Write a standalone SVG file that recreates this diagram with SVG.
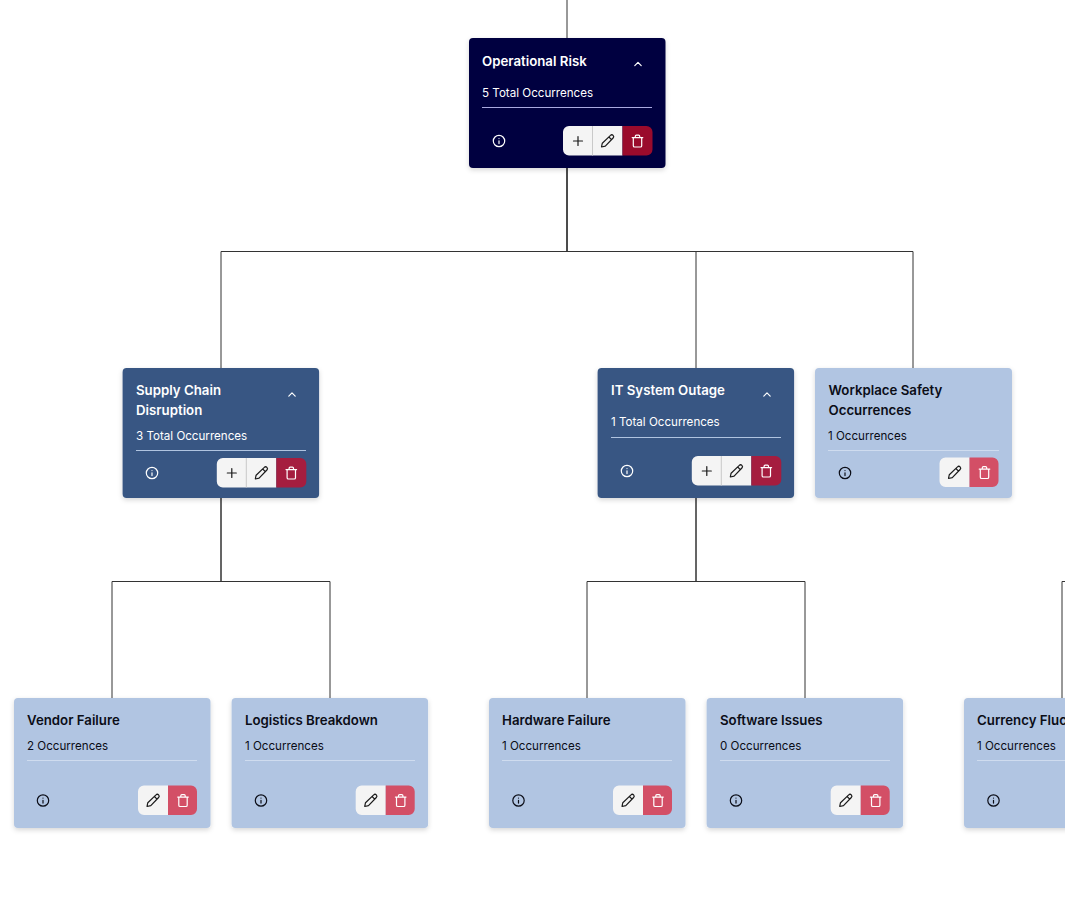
<svg xmlns="http://www.w3.org/2000/svg" width="1065" height="916" viewBox="0 0 1065 916">
<style>
text{font-family:Inter,"Noto Sans","Liberation Sans",sans-serif}
.t{font-size:13.25px;font-weight:600}
.s{font-size:11.6px;font-weight:400}
.lt{fill:#fff}.dk{fill:#0b0d17}
.conn path{fill:none;stroke:#333;stroke-width:1}
.ic{fill:none;stroke-width:1.2;stroke-linecap:round;stroke-linejoin:round}
.card{filter:url(#sh)}
</style>
<defs>
<filter id="sh" x="-10%" y="-10%" width="120%" height="125%"><feDropShadow dx="0" dy="2" stdDeviation="2.5" flood-color="#000" flood-opacity=".16"/></filter>
<g id="info" class="ic"><circle r="5.7"/><path d="M0 -.2V2.6M0 -2.5V-2.4"/></g>
<g id="plus" class="ic" stroke="#1a1a1a"><path d="M-4.5 0H4.5M0 -4.5V4.5"/></g>
<g id="pen" class="ic" stroke="#1a1a1a"><path d="M-6 6 L-5.2 2.2 L3 -5.6 A1.7 1.7 0 0 1 5.6 -3 L-2.2 5.2 Z M1.4 -4 L4 -1.4"/></g>
<g id="trash" class="ic"><path d="M-5.3 -3.4H5.3M-4.2 -3.4V4.7A1.3 1.3 0 0 0 -2.9 6H2.9A1.3 1.3 0 0 0 4.2 4.7V-3.4M-2.2 -3.4V-4.8A1.1 1.1 0 0 1 -1.1 -5.9H1.1A1.1 1.1 0 0 1 2.2 -4.8V-3.4"/></g>
<path id="chev" class="ic" d="M-3.2 1.6L0 -1.6L3.2 1.6"/>
<g id="bar3">
<path d="M6 0H59.500V29.500H6A6 6 0 0 1 0 23.500V6A6 6 0 0 1 6 0Z" fill="#f4f4f4"/>
<path d="M29.500 0V29.500" stroke="#c9c9c9" stroke-width="1"/>
<use href="#plus" x="15" y="15"/><use href="#pen" x="44.500" y="15"/>
</g>
<g id="bar2">
<path d="M6 0H30V29.500H6A6 6 0 0 1 0 23.500V6A6 6 0 0 1 6 0Z" fill="#f4f4f4"/>
<path d="M30 0H53A6 6 0 0 1 59 6V23.500A6 6 0 0 1 53 29.500H30Z" fill="#d34f66"/>
<use href="#pen" x="15" y="15"/><use href="#trash" x="45" y="15" stroke="#fff"/>
</g>
<path id="del" d="M0 0H24A6 6 0 0 1 30 6V23.500A6 6 0 0 1 24 29.500H0Z"/>
</defs>
<rect width="1065" height="916" fill="#fff"/>
<g class="conn">
<path d="M567 0V38"/>
<path d="M567 168V251.500H221V368"/>
<path d="M567 168V251.500H696V368"/>
<path d="M567 168V251.500H913V368"/>
<path d="M221 498V581.500H112V698"/>
<path d="M221 498V581.500H330V698"/>
<path d="M696 498V581.500H587V698"/>
<path d="M696 498V581.500H805V698"/>
<path d="M1065 581.500H1062V698"/>
</g>
<g id="node-operational-risk">
<rect class="card" x="469" y="38" width="196.500" height="130" rx="4" fill="#03023f"/>
<text class="t lt" x="482" y="66">Operational Risk</text>
<use href="#chev" x="638" y="64" stroke="#fff"/>
<text class="s lt" x="482" y="97">5 Total Occurrences</text>
<path d="M482 107.500H652" stroke="#a9a9e0"/>
<use href="#info" x="499" y="141" stroke="#fff"/>
<use href="#bar3" x="563" y="126"/>
<use href="#del" x="622.500" y="126" fill="#9a0b2c"/>
<use href="#trash" x="637.500" y="141" stroke="#fff"/>
</g>
<g id="node-supply-chain">
<rect class="card" x="122.600" y="368" width="196.500" height="130" rx="4" fill="#375683"/>
<text class="t lt" x="136" y="395">Supply Chain</text>
<text class="t lt" x="136" y="415">Disruption</text>
<use href="#chev" x="292" y="394.500" stroke="#fff"/>
<text class="s lt" x="136" y="440">3 Total Occurrences</text>
<path d="M136 450.500H306" stroke="#b0c4e0"/>
<use href="#info" x="152" y="473" stroke="#fff"/>
<use href="#bar3" x="216.800" y="458"/>
<use href="#del" x="276.300" y="458" fill="#a51d3f"/>
<use href="#trash" x="291.300" y="473" stroke="#fff"/>
</g>
<g id="node-it-system">
<rect class="card" x="597.600" y="368" width="196.500" height="130" rx="4" fill="#375683"/>
<text class="t lt" x="611" y="395">IT System Outage</text>
<use href="#chev" x="767" y="394.500" stroke="#fff"/>
<text class="s lt" x="611" y="426">1 Total Occurrences</text>
<path d="M611 437.500H781" stroke="#b0c4e0"/>
<use href="#info" x="627" y="471" stroke="#fff"/>
<use href="#bar3" x="691.800" y="456"/>
<use href="#del" x="751.300" y="456" fill="#a51d3f"/>
<use href="#trash" x="766.300" y="471" stroke="#fff"/>
</g>
<g id="node-workplace-safety">
<rect class="card" x="815" y="368" width="197" height="130" rx="4" fill="#b1c5e2"/>
<text class="t dk" x="828.500" y="395">Workplace Safety</text>
<text class="t dk" x="828.500" y="415">Occurrences</text>
<text class="s dk" x="828" y="440">1 Occurrences</text>
<path d="M828 450.500H999" stroke="#cfdcef"/>
<use href="#info" x="845" y="473" stroke="#0b0d17"/>
<use href="#bar2" x="939.500" y="457.500"/>
</g>
<g id="node-vendor-failure">
<rect class="card" x="14" y="698" width="196.500" height="130" rx="4" fill="#b1c5e2"/>
<text class="t dk" x="27" y="725">Vendor Failure</text>
<text class="s dk" x="27" y="750">2 Occurrences</text>
<path d="M27 760.500H197" stroke="#cfdcef"/>
<use href="#info" x="43" y="800.500" stroke="#0b0d17"/>
<use href="#bar2" x="138" y="785.500"/>
</g>
<g id="node-logistics-breakdown">
<rect class="card" x="231.600" y="698" width="196.500" height="130" rx="4" fill="#b1c5e2"/>
<text class="t dk" x="245" y="725">Logistics Breakdown</text>
<text class="s dk" x="245" y="750">1 Occurrences</text>
<path d="M245 760.500H415" stroke="#cfdcef"/>
<use href="#info" x="261" y="800.500" stroke="#0b0d17"/>
<use href="#bar2" x="355.700" y="785.500"/>
</g>
<g id="node-hardware-failure">
<rect class="card" x="489" y="698" width="196.500" height="130" rx="4" fill="#b1c5e2"/>
<text class="t dk" x="502" y="725">Hardware Failure</text>
<text class="s dk" x="502" y="750">1 Occurrences</text>
<path d="M502 760.500H672" stroke="#cfdcef"/>
<use href="#info" x="518.500" y="800.500" stroke="#0b0d17"/>
<use href="#bar2" x="613" y="785.500"/>
</g>
<g id="node-software-issues">
<rect class="card" x="706.600" y="698" width="196.500" height="130" rx="4" fill="#b1c5e2"/>
<text class="t dk" x="720" y="725">Software Issues</text>
<text class="s dk" x="720" y="750">0 Occurrences</text>
<path d="M720 760.500H890" stroke="#cfdcef"/>
<use href="#info" x="736" y="800.500" stroke="#0b0d17"/>
<use href="#bar2" x="830.700" y="785.500"/>
</g>
<g id="node-currency">
<rect class="card" x="964" y="698" width="196.500" height="130" rx="4" fill="#b1c5e2"/>
<text class="t dk" x="977" y="725">Currency Fluc</text>
<text class="s dk" x="977" y="750">1 Occurrences</text>
<path d="M977 760.500H1065" stroke="#cfdcef"/>
<use href="#info" x="993.500" y="800.500" stroke="#0b0d17"/>
</g>
</svg>
